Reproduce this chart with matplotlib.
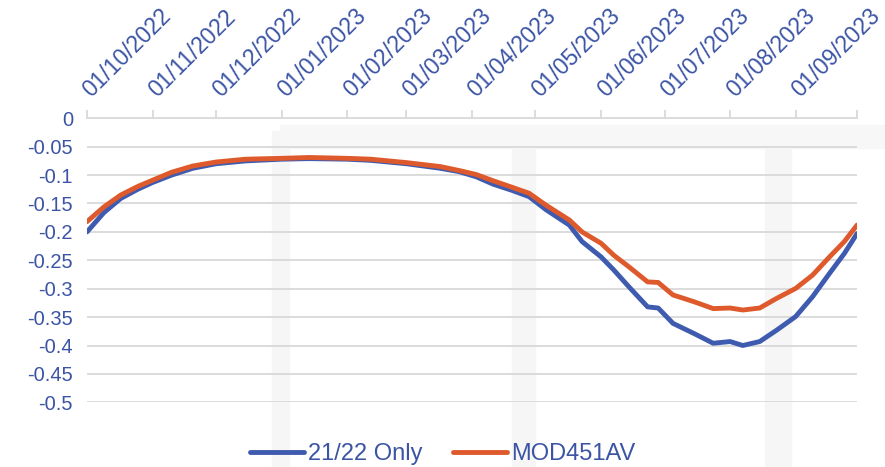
import matplotlib.pyplot as plt
import matplotlib.dates as mdates
from matplotlib.patches import Rectangle
import pandas as pd

plt.rcParams['font.family'] = ['Liberation Sans', 'DejaVu Sans']

# Дані
dates = ['2022-10-01', '2022-10-09', '2022-10-17', '2022-10-25', '2022-11-01',
         '2022-11-10', '2022-11-20', '2022-12-01', '2022-12-15', '2023-01-01',
         '2023-01-14', '2023-02-01', '2023-02-12', '2023-03-01', '2023-03-17',
         '2023-03-26', '2023-04-03', '2023-04-11', '2023-04-20', '2023-04-28',
         '2023-05-06', '2023-05-17', '2023-05-23', '2023-06-01', '2023-06-07',
         '2023-06-14', '2023-06-23', '2023-06-28', '2023-07-05', '2023-07-15',
         '2023-07-24', '2023-08-01', '2023-08-07', '2023-08-15', '2023-08-23',
         '2023-09-01', '2023-09-09', '2023-09-17', '2023-09-24', '2023-09-30']

only_2122 = [-0.200, -0.166, -0.141, -0.125, -0.113, -0.100, -0.088, -0.080, -0.075, -0.072,
             -0.071, -0.072, -0.074, -0.080, -0.088, -0.094, -0.103, -0.116, -0.127, -0.138,
             -0.161, -0.188, -0.217, -0.244, -0.267, -0.296, -0.332, -0.334, -0.361, -0.379,
             -0.396, -0.393, -0.400, -0.393, -0.373, -0.349, -0.314, -0.273, -0.238, -0.203]

mod451av = [-0.182, -0.156, -0.135, -0.120, -0.109, -0.095, -0.084, -0.077, -0.072, -0.0705,
            -0.069, -0.0705, -0.072, -0.078, -0.085, -0.092, -0.099, -0.110, -0.1215, -0.132,
            -0.153, -0.179, -0.200, -0.220, -0.241, -0.261, -0.288, -0.289, -0.311, -0.323,
            -0.335, -0.334, -0.3375, -0.334, -0.317, -0.2995, -0.276, -0.244, -0.217, -0.188]

month_ticks = ['2022-10-01', '2022-11-01', '2022-12-01', '2023-01-01', '2023-02-01',
               '2023-03-01', '2023-04-01', '2023-05-01', '2023-06-01', '2023-07-01',
               '2023-08-01', '2023-09-01']
y_ticks = [0, -0.05, -0.1, -0.15, -0.2, -0.25, -0.3, -0.35, -0.4, -0.45, -0.5]

x = pd.to_datetime(dates)
ticks = pd.to_datetime(month_ticks)
x_end = pd.Timestamp('2023-09-30')

blue = '#3F5BAF'
orange = '#DE5A2C'
text_col = '#3B54A4'
grid_col = '#D9D9D9'

fig = plt.figure(figsize=(8.85, 4.67), dpi=100)

# легкі сірі смуги фону слайда
for x0, w in [(0.307, 0.02), (0.578, 0.027), (0.864, 0.03)]:
    fig.patches.append(Rectangle((x0, 0.0), w, 0.72, transform=fig.transFigure,
                                 color='#F6F6F6', zorder=0))
fig.patches.append(Rectangle((0.316, 0.683), 0.684, 0.05, transform=fig.transFigure,
                             color='#F7F7F7', zorder=0))

ax = fig.add_axes([0.0983, 0.1385, 0.8701, 0.6082])
ax.set_zorder(2)
ax.patch.set_alpha(0)

ax.plot(x, only_2122, color=blue, linewidth=3.5, solid_capstyle='round', label='21/22 Only')
ax.plot(x, mod451av, color=orange, linewidth=3.5, solid_capstyle='round', label='MOD451AV')

ax.set_xlim(x[0], x_end)
ax.set_ylim(-0.5, 0)

# горизонтальна сітка
for v in y_ticks[1:]:
    ax.axhline(v, color=grid_col, linewidth=1.3, zorder=0)

for s in ['left', 'right', 'bottom']:
    ax.spines[s].set_visible(False)
ax.spines['top'].set_color(grid_col)
ax.spines['top'].set_linewidth(1.3)

ax.xaxis.tick_top()
ax.set_xticks(list(ticks) + [x_end])
ax.set_xticklabels([t.strftime('%d/%m/%Y') for t in ticks] + [''],
                   rotation=45, ha='left', va='center', rotation_mode='anchor',
                   fontsize=16.5, color=text_col)
ax.tick_params(axis='x', direction='out', length=6, width=1.3, color=grid_col, pad=12)

ax.set_yticks(y_ticks)
ax.set_yticklabels(['0' if v == 0 else f'{v:g}' for v in y_ticks], fontsize=14.5, color=text_col)
ax.tick_params(axis='y', length=0, pad=10)

fig.legend(loc='lower center', bbox_to_anchor=(0.5, -0.042), ncol=2, frameon=False,
           fontsize=17, labelcolor=text_col, handlelength=2.3, handletextpad=0.15,
           columnspacing=1.3)

plt.savefig('out.png', dpi=100)
